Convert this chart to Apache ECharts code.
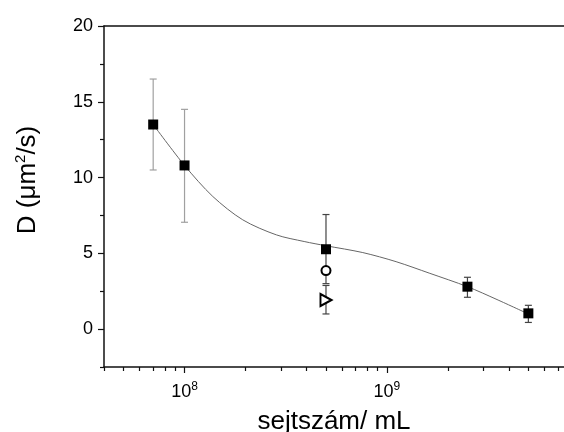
<!DOCTYPE html>
<html>
<head>
<meta charset="utf-8">
<script src="https://cdn.jsdelivr.net/npm/echarts@6/dist/echarts.min.js"></script>
<style>html,body{margin:0;padding:0;background:#fff}#c{width:564px;height:432px}</style>
</head>
<body>
<div id="c"></div>
<script>
// ---- data ----
const cellCounts = [7e7, 1e8, 5e8, 2.5e9, 5e9];
const diffD = [13.5, 10.8, 5.27, 2.8, 1.04];
const errLow = [10.5, 7.05, 3.0, 2.1, 0.44];
const errHigh = [16.5, 14.5, 7.56, 3.42, 1.57];
const circleX = [5e8];
const circleY = [3.86];
const triangleX = [5e8];
const triangleY = [1.92];
const triErrLow = [1.0];
const triErrHigh = [2.88];
const curveX = [7e7, 1e8, 1.38e8, 1.94e8, 2.84e8, 3.9e8, 5e8, 7.6e8, 1.11e9, 1.63e9, 2.5e9, 3.5e9, 5e9];
const curveY = [13.5, 10.8, 8.75, 7.21, 6.22, 5.78, 5.5, 5.05, 4.45, 3.68, 2.8, 1.95, 1.0];
const xMajorTicks = [1e8, 1e9];
const xMinorTicks = [4e7, 5e7, 6e7, 7e7, 8e7, 9e7, 2e8, 3e8, 4e8, 5e8, 6e8, 7e8, 8e8, 9e8, 2e9, 3e9, 4e9, 5e9, 6e9, 7e9];
const yMajorTicks = [0, 5, 10, 15, 20];
const yMinorTicks = [-2.5, 2.5, 7.5, 12.5, 17.5];

const FONT = 'Liberation Sans, Arial, sans-serif';
const chart = echarts.init(document.getElementById('c'), null, {renderer: 'canvas'});

const errData = cellCounts.map((x, i) => [x, errLow[i], errHigh[i], i < 2 ? 0 : 1]);
errData.push([triangleX[0], triErrLow[0], triErrHigh[0], 1]);

function renderErr(params, api) {
  const x = api.value(0);
  const lo = api.coord([x, api.value(1)]);
  const hi = api.coord([x, api.value(2)]);
  const color = api.value(3) === 0 ? '#a0a0a0' : '#444';
  const hw = 3.5;
  const st = {stroke: color, lineWidth: 1.2};
  return {type: 'group', children: [
    {type: 'line', shape: {x1: lo[0], y1: lo[1], x2: hi[0], y2: hi[1]}, style: st},
    {type: 'line', shape: {x1: lo[0] - hw, y1: lo[1], x2: lo[0] + hw, y2: lo[1]}, style: st},
    {type: 'line', shape: {x1: hi[0] - hw, y1: hi[1], x2: hi[0] + hw, y2: hi[1]}, style: st}
  ]};
}

const axisLineStyle = {color: '#111', width: 1.5};
const logBase = {type: 'log', logBase: 10, min: 4e7, max: 7.5e9, splitLine: {show: false}, minorTick: {show: false}};
const valBase = {type: 'value', min: -2.5, max: 20, splitLine: {show: false}};

chart.setOption({
  animation: false,
  grid: {left: 104, right: 0, top: 26, bottom: 65, containLabel: false, outerBoundsMode: 'none'},
  xAxis: [
    Object.assign({}, logBase, {
      position: 'bottom',
      axisLine: {show: true, onZero: false, lineStyle: axisLineStyle},
      axisTick: {show: true, customValues: xMajorTicks, length: 6, lineStyle: {color: '#111', width: 1.2}},
      axisLabel: {show: true, customValues: xMajorTicks, margin: 14, color: '#000', fontFamily: FONT, fontSize: 18,
        formatter: v => '10{sup|' + Math.round(Math.log10(v)) + '}',
        rich: {sup: {fontSize: 12, fontFamily: FONT, color: '#000', verticalAlign: 'top', padding: [0, 0, 10, 0]}}},
      name: 'sejtszám/ mL', nameLocation: 'middle', nameGap: 42,
      nameTextStyle: {fontSize: 26, fontFamily: FONT, color: '#000'}
    }),
    Object.assign({}, logBase, {
      position: 'bottom',
      axisLine: {show: false, onZero: false},
      axisTick: {show: true, customValues: xMinorTicks, length: 4, lineStyle: {color: '#111', width: 1.2}},
      axisLabel: {show: false}
    }),
    Object.assign({}, logBase, {
      position: 'top',
      axisLine: {show: true, onZero: false, lineStyle: axisLineStyle},
      axisTick: {show: false},
      axisLabel: {show: false}
    })
  ],
  yAxis: [
    Object.assign({}, valBase, {
      position: 'left',
      axisLine: {show: true, onZero: false, lineStyle: axisLineStyle},
      axisTick: {show: true, customValues: yMajorTicks, length: 6, lineStyle: {color: '#111', width: 1.2}},
      axisLabel: {show: true, customValues: yMajorTicks, margin: 11, color: '#000', fontFamily: FONT, fontSize: 18},
      name: 'D (μm{sup|2}/s)', nameLocation: 'middle', nameGap: 62,
      nameTextStyle: {fontSize: 26, fontFamily: FONT, color: '#000', padding: [0, 0, 0, 33],
        rich: {sup: {fontSize: 15, fontFamily: FONT, color: '#000', verticalAlign: 'top', padding: [0, 0, 14, 0]}}}
    }),
    Object.assign({}, valBase, {
      position: 'left',
      axisLine: {show: false, onZero: false},
      axisTick: {show: true, customValues: yMinorTicks, length: 4, lineStyle: {color: '#111', width: 1.2}},
      axisLabel: {show: false}
    })
  ],
  series: [
    {
      type: 'line', xAxisIndex: 0, yAxisIndex: 0, smooth: 0.3, symbol: 'none', z: 2,
      lineStyle: {color: '#666', width: 1},
      data: curveX.map((x, i) => [x, curveY[i]])
    },
    {
      type: 'custom', xAxisIndex: 0, yAxisIndex: 0, renderItem: renderErr, z: 3,
      encode: {x: 0, y: [1, 2]},
      data: errData
    },
    {
      type: 'scatter', xAxisIndex: 0, yAxisIndex: 0, symbol: 'rect', symbolSize: 10, z: 5,
      itemStyle: {color: '#000', opacity: 1},
      data: cellCounts.map((x, i) => [x, diffD[i]])
    },
    {
      type: 'scatter', xAxisIndex: 0, yAxisIndex: 0, symbol: 'circle', symbolSize: 9, z: 5,
      itemStyle: {color: '#fff', borderColor: '#000', borderWidth: 2, opacity: 1},
      data: circleX.map((x, i) => [x, circleY[i]])
    },
    {
      type: 'scatter', xAxisIndex: 0, yAxisIndex: 0, symbol: 'triangle', symbolSize: [12, 11], symbolRotate: -90, z: 5,
      itemStyle: {color: '#fff', borderColor: '#000', borderWidth: 2, opacity: 1},
      data: triangleX.map((x, i) => [x, triangleY[i]])
    }
  ]
});
</script>
</body>
</html>
